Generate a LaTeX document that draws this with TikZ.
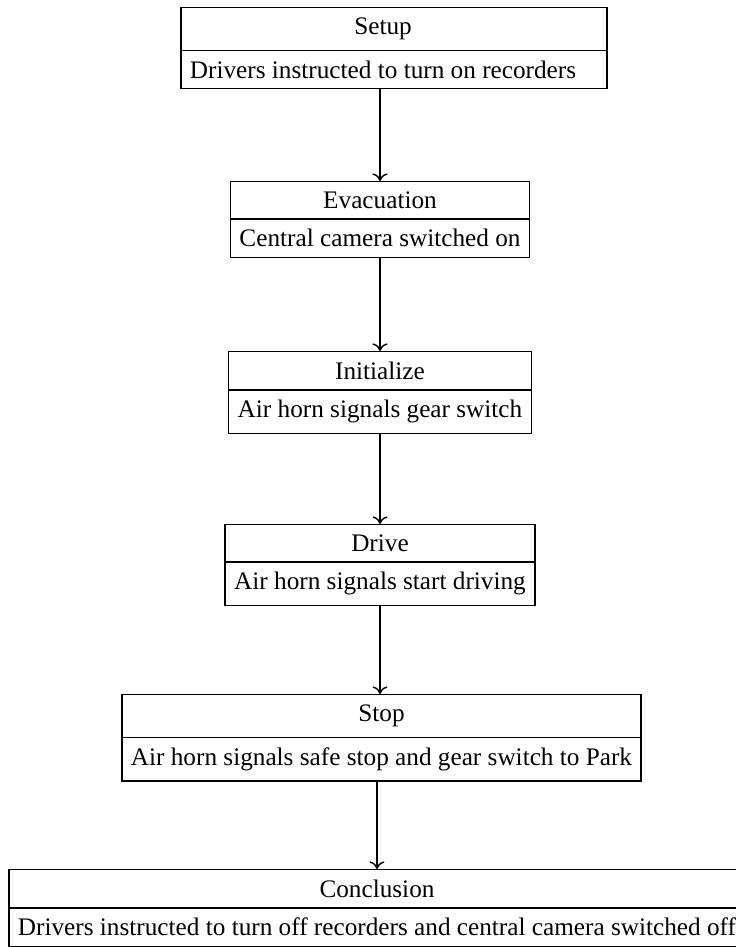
\documentclass[tikz,border=0pt]{standalone}
\usepackage{fontspec}
\setmainfont{Liberation Serif}
\usetikzlibrary{shapes.multipart,arrows.meta}
\begin{document}
\begin{tikzpicture}[x=0.42pt,y=-0.42pt,
  stage/.style={draw, rectangle split, rectangle split parts=2,
    anchor=north, inner xsep=3.8pt, inner ysep=4.0pt, font=\fontsize{10.6}{12.7}\selectfont, line width=0.6pt},
  flow/.style={-{To[width=6.3pt,length=3.2pt]}, line width=0.6pt}]
\useasboundingbox (0,0) rectangle (736,947);
\node[stage] (setup) at (394,7) {Setup\kern9.2pt\nodepart{two}Drivers instructed to turn on recorders\kern9.2pt};
\node[stage] (evac) at (380,181) {Evacuation\nodepart{two}Central camera switched on};
\node[stage] (init) at (380,351) {Initialize\nodepart{two}Air horn signals gear switch};
\node[stage] (drive) at (380,524) {Drive\nodepart{two}Air horn signals start driving};
\node[stage] (stop) at (381.5,694) {Stop\nodepart{two}Air horn signals safe stop and gear switch to Park};
\node[stage] (concl) at (377,869) {Conclusion\nodepart{two}Drivers instructed to turn off recorders and central camera switched off};
\draw[flow] (setup.south -| evac.north) -- (evac.north);
\draw[flow] (evac.south) -- (evac.south |- init.north);
\draw[flow] (init.south) -- (init.south |- drive.north);
\draw[flow] (drive.south) -- (drive.south |- stop.north);
\draw[flow] (stop.south -| concl.north) -- (concl.north);
\end{tikzpicture}
\end{document}
